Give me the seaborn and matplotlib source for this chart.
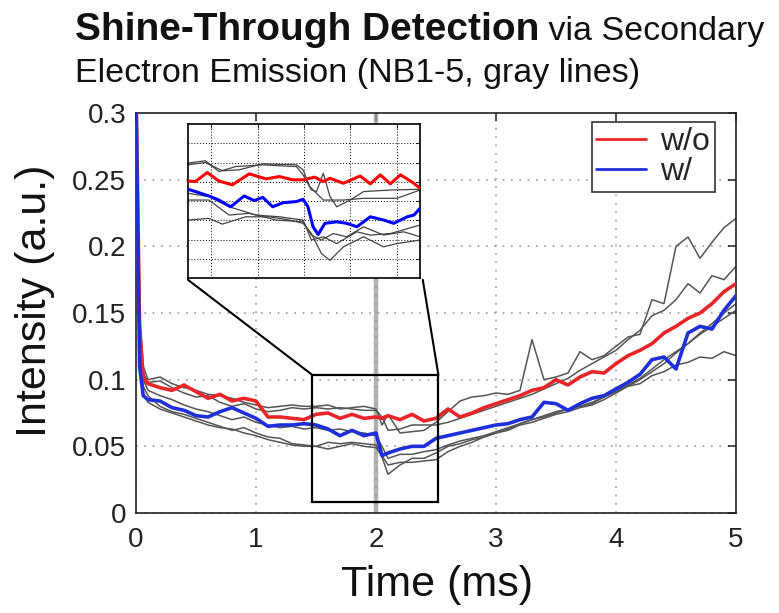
import matplotlib
matplotlib.use("Agg")
import matplotlib.pyplot as plt
import seaborn as sns
import pandas as pd
from matplotlib.patches import Rectangle, ConnectionPatch
from matplotlib.lines import Line2D

# ---------------- data ----------------
time_ms = [0.0, 0.03, 0.06,
           0.1, 0.2, 0.3, 0.4, 0.5, 0.6, 0.7, 0.8, 0.9, 1.0,
           1.1, 1.2, 1.3, 1.4, 1.5, 1.6, 1.7, 1.8, 1.9, 2.0, 2.05,
           2.1, 2.2, 2.3, 2.4, 2.5, 2.6, 2.7, 2.8, 2.9, 3.0,
           3.1, 3.2, 3.3, 3.4, 3.5, 3.6, 3.7, 3.8, 3.9, 4.0,
           4.1, 4.2, 4.3, 4.4, 4.5, 4.6, 4.7, 4.8, 4.9, 5.0]

without_coating = [0.32, 0.14, 0.102,
                   0.097, 0.094, 0.092, 0.096, 0.091, 0.086, 0.089, 0.084, 0.086, 0.084,
                   0.072, 0.072, 0.071, 0.070, 0.074, 0.075, 0.071, 0.074, 0.071, 0.072, 0.071,
                   0.073, 0.070, 0.074, 0.069, 0.071, 0.078, 0.072, 0.075, 0.079, 0.082,
                   0.085, 0.088, 0.092, 0.094, 0.100, 0.096, 0.102, 0.106, 0.105, 0.112,
                   0.118, 0.122, 0.127, 0.135, 0.140, 0.146, 0.150, 0.157, 0.166, 0.172]

with_coating = [0.31, 0.11, 0.088,
                0.085, 0.084, 0.079, 0.077, 0.073, 0.072, 0.076, 0.079, 0.075, 0.071,
                0.065, 0.066, 0.066, 0.067, 0.066, 0.063, 0.058, 0.062, 0.058, 0.060, 0.043,
                0.045, 0.048, 0.050, 0.050, 0.056, 0.058, 0.060, 0.062, 0.064, 0.066,
                0.067, 0.070, 0.072, 0.083, 0.082, 0.077, 0.082, 0.086, 0.088, 0.093,
                0.098, 0.104, 0.115, 0.117, 0.108, 0.135, 0.140, 0.138, 0.152, 0.163]

nb1 = [0.33, 0.15, 0.11,
       0.100, 0.102, 0.097, 0.094, 0.092, 0.089, 0.088, 0.086, 0.083, 0.081,
       0.079, 0.080, 0.081, 0.080, 0.080, 0.081, 0.078, 0.079, 0.080, 0.078, 0.066,
       0.074, 0.060, 0.061, 0.062, 0.068, 0.076, 0.084, 0.087, 0.088, 0.090,
       0.089, 0.092, 0.130, 0.100, 0.102, 0.105, 0.121, 0.115, 0.118, 0.125,
       0.132, 0.134, 0.160, 0.157, 0.200, 0.207, 0.191, 0.203, 0.214, 0.221]

nb2 = [0.33, 0.14, 0.105,
       0.098, 0.099, 0.094, 0.090, 0.087, 0.088, 0.083, 0.080, 0.082, 0.078,
       0.076, 0.077, 0.079, 0.078, 0.079, 0.078, 0.079, 0.078, 0.077, 0.077, 0.072,
       0.062, 0.063, 0.066, 0.066, 0.066, 0.068, 0.071, 0.074, 0.077, 0.080,
       0.083, 0.086, 0.089, 0.093, 0.097, 0.101, 0.107, 0.112, 0.117, 0.122,
       0.130, 0.137, 0.148, 0.152, 0.160, 0.172, 0.165, 0.178, 0.175, 0.185]

nb3 = [0.32, 0.13, 0.10,
       0.092, 0.088, 0.085, 0.081, 0.078, 0.076, 0.073, 0.070, 0.072, 0.068,
       0.066, 0.064, 0.065, 0.063, 0.064, 0.062, 0.063, 0.061, 0.060, 0.058, 0.050,
       0.041, 0.044, 0.044, 0.046, 0.0475, 0.051, 0.054, 0.056, 0.058, 0.061,
       0.064, 0.067, 0.070, 0.073, 0.076, 0.078, 0.080, 0.083, 0.087, 0.091,
       0.096, 0.101, 0.108, 0.115, 0.121, 0.127, 0.134, 0.140, 0.146, 0.152]

nb4 = [0.32, 0.12, 0.095,
       0.088, 0.080, 0.076, 0.074, 0.071, 0.068, 0.065, 0.062, 0.064, 0.060,
       0.057, 0.056, 0.052, 0.051, 0.050, 0.053, 0.052, 0.053, 0.052, 0.051, 0.042,
       0.029, 0.036, 0.041, 0.041, 0.045, 0.050, 0.052, 0.055, 0.057, 0.060,
       0.062, 0.066, 0.068, 0.071, 0.074, 0.076, 0.079, 0.081, 0.085, 0.090,
       0.095, 0.100, 0.106, 0.112, 0.120, 0.127, 0.135, 0.142, 0.150, 0.157]

nb5 = [0.31, 0.12, 0.09,
       0.083, 0.078, 0.075, 0.072, 0.069, 0.066, 0.064, 0.063, 0.060, 0.058,
       0.055, 0.053, 0.051, 0.050, 0.050, 0.048, 0.050, 0.052, 0.050, 0.049, 0.043,
       0.036, 0.038, 0.038, 0.039, 0.040, 0.046, 0.050, 0.053, 0.057, 0.060,
       0.063, 0.067, 0.070, 0.072, 0.075, 0.078, 0.080, 0.082, 0.087, 0.093,
       0.095, 0.097, 0.103, 0.106, 0.111, 0.113, 0.117, 0.116, 0.121, 0.118]

# inset (zoomed 1.5-2.5 ms window, finer sampling)
inset_red_t = [1.5, 1.532, 1.583, 1.633, 1.691, 1.764, 1.836, 1.894, 1.952, 1.996, 2.046,
               2.083, 2.112, 2.17, 2.242, 2.286, 2.329, 2.372, 2.416, 2.474, 2.5]
inset_red_v = [0.0704, 0.0701, 0.0748, 0.0704, 0.0684, 0.0741, 0.0715, 0.0727, 0.0710, 0.0710, 0.0724,
               0.0701, 0.0718, 0.0692, 0.0730, 0.0689, 0.0736, 0.0689, 0.0736, 0.0692, 0.0666]
inset_blue_t = [1.5, 1.532, 1.59, 1.633, 1.684, 1.742, 1.786, 1.822, 1.865, 1.909, 1.967, 1.996, 2.017,
                2.039, 2.061, 2.09, 2.141, 2.184, 2.228, 2.286, 2.343, 2.387, 2.445, 2.474, 2.5]
inset_blue_v = [0.0661, 0.0649, 0.0626, 0.0605, 0.0570, 0.0626, 0.0602, 0.0619, 0.0570, 0.0591, 0.0597, 0.0609, 0.0570,
                0.0466, 0.0426, 0.0484, 0.0492, 0.0484, 0.0466, 0.0518, 0.0501, 0.0484, 0.0518, 0.0527, 0.0562]
inset_nb_a_t = [1.5, 1.575, 1.633, 1.706, 1.822, 1.894, 1.967, 1.996, 2.032, 2.054, 2.083, 2.112, 2.141,
                2.199, 2.257, 2.372, 2.5]
inset_nb_a_v = [0.0797, 0.0809, 0.0753, 0.0779, 0.0788, 0.0783, 0.0779, 0.0736, 0.0657, 0.0649, 0.0744, 0.0623, 0.0570,
                0.0605, 0.0649, 0.0657, 0.0661]
inset_nb_b_t = [1.5, 1.575, 1.648, 1.72, 1.822, 1.967, 1.996, 2.025, 2.083, 2.17, 2.257, 2.401, 2.5]
inset_nb_b_v = [0.0788, 0.0800, 0.0757, 0.0762, 0.0793, 0.0788, 0.0762, 0.0675, 0.0605, 0.0605, 0.0614, 0.0614, 0.0657]
inset_nb_c_t = [1.5, 1.59, 1.677, 1.793, 1.894, 1.996, 2.032, 2.083, 2.141, 2.228, 2.286, 2.372, 2.5]
inset_nb_c_v = [0.0640, 0.0623, 0.0570, 0.0527, 0.0518, 0.0501, 0.0397, 0.0414, 0.0379, 0.0440, 0.0423, 0.0431, 0.0475]
inset_nb_d_t = [1.5, 1.59, 1.648, 1.749, 1.851, 1.938, 1.996, 2.032, 2.075, 2.112, 2.17, 2.257, 2.343, 2.401, 2.5]
inset_nb_d_v = [0.0501, 0.0510, 0.0480, 0.0518, 0.0518, 0.0501, 0.0484, 0.0431, 0.0327, 0.0292, 0.0362, 0.0414, 0.0362, 0.0379, 0.0397]
inset_nb_e_t = [1.5, 1.59, 1.677, 1.764, 1.88, 1.996, 2.032, 2.075, 2.126, 2.184, 2.257, 2.343, 2.43, 2.5]
inset_nb_e_v = [0.0605, 0.0605, 0.0527, 0.0536, 0.0501, 0.0492, 0.0423, 0.0397, 0.0431, 0.0414, 0.0466, 0.0423, 0.0440, 0.0414]

gray_series = [nb1, nb2, nb3, nb4, nb5]
inset_gray = [(inset_nb_a_t, inset_nb_a_v), (inset_nb_b_t, inset_nb_b_v), (inset_nb_c_t, inset_nb_c_v),
              (inset_nb_d_t, inset_nb_d_v), (inset_nb_e_t, inset_nb_e_v)]
x_ticks = [0, 1, 2, 3, 4, 5]
y_ticks = [0, 0.05, 0.1, 0.15, 0.2, 0.25, 0.3]
y_tick_labels = ["0", "0.05", "0.1", "0.15", "0.2", "0.25", "0.3"]
legend_labels = ["w/o", "w/"]

RED = "#e8262a"
BLUE = "#1f2fd8"
GRAY = "#555555"

# ---------------- style ----------------
sns.set_theme(style="white")
plt.rcParams['font.family'] = ['Liberation Sans', 'DejaVu Sans']

W, H = 779, 613
fig = plt.figure(figsize=(W / 100, H / 100), dpi=100)
fig.patch.set_facecolor("white")

def fx(px):
    return px / W

def fy(py):
    return 1 - py / H

ax = fig.add_axes([fx(136), fy(513), (736 - 136) / W, (513 - 113) / H])

ax.axvline(2.0, color="#9a9a9a", lw=3.2, alpha=0.75, zorder=1)

for g in gray_series:
    sns.lineplot(x=time_ms, y=g, ax=ax, color=GRAY, lw=1.1, legend=False, zorder=2)
sns.lineplot(x=time_ms, y=without_coating, ax=ax, color=RED, lw=2.6, legend=False, zorder=4)
sns.lineplot(x=time_ms, y=with_coating, ax=ax, color=BLUE, lw=2.6, legend=False, zorder=5)

ax.set_xlim(0, 5)
ax.set_ylim(0, 0.3)
ax.set_xticks(x_ticks)
ax.set_xticklabels([str(v) for v in x_ticks])
ax.set_yticks(y_ticks)
ax.set_yticklabels(y_tick_labels)
ax.grid(True, ls=(0, (1, 4)), color="#9a9a9a", lw=1.2)
ax.tick_params(direction="in", length=6, width=1.1, top=True, right=True,
               labelsize=20, colors="#222222")
ax.tick_params(axis="x", pad=10)
ax.tick_params(axis="y", pad=7)
for s in ax.spines.values():
    s.set_color("#222222")
    s.set_linewidth(1.2)

ax.set_xlabel("Time (ms)", fontsize=31, color="#111111")
ax.set_ylabel("Intensity (a.u.)", fontsize=31, color="#111111")
ax.xaxis.set_label_coords(0.5025, -0.13)
ax.yaxis.set_label_coords(-0.135, 0.53)

# zoom rectangle
rect_x0, rect_x1, rect_y0, rect_y1 = 1.47, 2.52, 0.008, 0.1035
ax.add_patch(Rectangle((rect_x0, rect_y0), rect_x1 - rect_x0, rect_y1 - rect_y0,
                       fill=False, ec="black", lw=1.6, zorder=6))

# legend
handles = [Line2D([], [], color=RED, lw=2.0, label=legend_labels[0]),
           Line2D([], [], color=BLUE, lw=2.0, label=legend_labels[1])]
leg = ax.legend(handles=handles, loc="upper right", bbox_to_anchor=(0.965, 0.9775),
                borderaxespad=0, fontsize=23, frameon=True, fancybox=False,
                edgecolor="#333333", framealpha=1, handlelength=1.55,
                borderpad=0.15, labelspacing=0.02, handletextpad=0.45)
leg.get_frame().set_linewidth(1.2)

# ---------------- inset ----------------
axin = fig.add_axes([fx(188), fy(278), (420 - 188) / W, (278 - 124) / H])
axin.set_facecolor("white")
for gt, gv in inset_gray:
    sns.lineplot(x=gt, y=gv, ax=axin, color="#444444", lw=0.9, legend=False, zorder=2)
sns.lineplot(x=inset_red_t, y=inset_red_v, ax=axin, color="#ff0000", lw=2.2, legend=False, zorder=4)
sns.lineplot(x=inset_blue_t, y=inset_blue_v, ax=axin, color="#0000ff", lw=2.2, legend=False, zorder=5)
axin.set_xlim(1.5, 2.5)
axin.set_ylim(0.02, 0.10)
axin.set_xticks([1.6, 1.8, 2.0, 2.2, 2.4])
axin.set_yticks([0.03, 0.04, 0.05, 0.06, 0.07, 0.08, 0.09])
axin.set_xticklabels([])
axin.set_yticklabels([])
axin.set_xlabel("")
axin.set_ylabel("")
axin.grid(True, ls=(0, (1, 2)), color="black", lw=0.7)
axin.tick_params(direction="in", length=3, width=0.8, top=True, right=True)
for s in axin.spines.values():
    s.set_color("black")
    s.set_linewidth(1.2)

for xa, xb in [((0.0, -0.012), (rect_x0, rect_y1)), ((1.012, -0.012), (rect_x1, rect_y1))]:
    cp = ConnectionPatch(xyA=xa, coordsA=axin.transAxes, xyB=xb, coordsB=ax.transData,
                         color="black", lw=1.5)
    fig.add_artist(cp)

# ---------------- title ----------------
t1 = fig.text(fx(75), fy(40), "Shine-Through Detection", fontsize=28,
              fontweight="bold", va="baseline", ha="left", color="#111111")
fig.canvas.draw()
bb = t1.get_window_extent(renderer=fig.canvas.get_renderer())
x_after = bb.x1 / W
fig.text(x_after, fy(40), " via Secondary", fontsize=24.5, va="baseline", ha="left",
         color="#111111")
fig.text(fx(75), fy(82), "Electron Emission (NB1-5, gray lines)", fontsize=24.5,
         va="baseline", ha="left", color="#111111")

fig.savefig("out.png", dpi=100)
